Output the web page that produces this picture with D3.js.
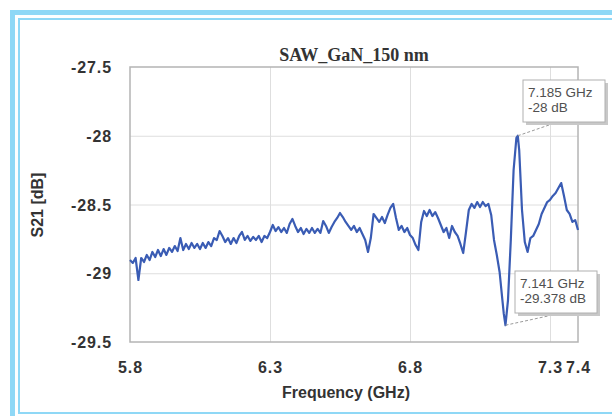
<!DOCTYPE html>
<html>
<head>
<meta charset="utf-8">
<script src="https://cdn.jsdelivr.net/npm/d3@7"></script>
<style>
  body { margin: 0; background: #fff; }
  svg { display: block; }
  .tick-label { font-family: Arial, "Liberation Sans", sans-serif; font-weight: bold; font-size: 16px; letter-spacing: 0.9px; fill: #333; }
  .grid line { stroke: #dedede; stroke-width: 1; }
  .grid path { display: none; }
  .note { font-family: Arial, "Liberation Sans", sans-serif; font-size: 13.5px; fill: #505050; }
</style>
</head>
<body>
<div id="chart"></div>
<script>
// chart values
var chartTitle = "SAW_GaN_150 nm";
var xTicks = [5.8, 6.3, 6.8, 7.3, 7.4];
var yTicks = [-27.5, -28, -28.5, -29, -29.5];

var freqGHz = [
  5.80, 5.81, 5.82, 5.83, 5.84, 5.85, 5.86, 5.87, 5.88, 5.89,
  5.90, 5.91, 5.92, 5.93, 5.94, 5.95, 5.96, 5.97, 5.98, 5.99,
  6.00, 6.01, 6.02, 6.03, 6.04, 6.05, 6.06, 6.07, 6.08, 6.09,
  6.10, 6.11, 6.12, 6.13, 6.14, 6.15, 6.16, 6.17, 6.18, 6.19,
  6.20, 6.21, 6.22, 6.23, 6.24, 6.25, 6.26, 6.27, 6.28, 6.29,
  6.30, 6.31, 6.32, 6.33, 6.34, 6.35, 6.36, 6.37, 6.38, 6.39,
  6.40, 6.41, 6.42, 6.43, 6.44, 6.45, 6.46, 6.47, 6.48, 6.49,
  6.50, 6.51, 6.52, 6.53, 6.54, 6.55, 6.56, 6.57, 6.58, 6.59,
  6.60, 6.61, 6.62, 6.63, 6.64, 6.65, 6.66, 6.67, 6.68, 6.69,
  6.70, 6.71, 6.72, 6.73, 6.74, 6.75, 6.76, 6.77, 6.78, 6.79,
  6.80, 6.81, 6.82, 6.83, 6.84, 6.85, 6.86, 6.87, 6.88, 6.89,
  6.90, 6.91, 6.92, 6.93, 6.94, 6.95, 6.96, 6.97, 6.98, 6.99,
  7.00, 7.01, 7.02, 7.03, 7.04, 7.05, 7.06, 7.07, 7.08, 7.09,
  7.10, 7.11, 7.12, 7.13, 7.135, 7.141, 7.15, 7.16, 7.17, 7.18,
  7.185, 7.19, 7.20, 7.21, 7.22, 7.23, 7.24, 7.25, 7.26, 7.27,
  7.28, 7.29, 7.30, 7.31, 7.32, 7.33, 7.34, 7.35, 7.36, 7.37,
  7.38, 7.39, 7.40
];

var s21dB = [
  -28.904, -28.925, -28.889, -29.049, -28.889, -28.918, -28.867, -28.904, -28.845, -28.882,
  -28.831, -28.875, -28.824, -28.867, -28.816, -28.845, -28.802, -28.838, -28.744, -28.831,
  -28.787, -28.824, -28.780, -28.816, -28.787, -28.824, -28.780, -28.816, -28.773, -28.802,
  -28.744, -28.758, -28.693, -28.729, -28.773, -28.744, -28.787, -28.744, -28.780, -28.729,
  -28.700, -28.758, -28.729, -28.765, -28.736, -28.758, -28.729, -28.773, -28.729, -28.744,
  -28.700, -28.649, -28.693, -28.664, -28.700, -28.671, -28.707, -28.642, -28.605, -28.656,
  -28.700, -28.671, -28.715, -28.678, -28.707, -28.671, -28.707, -28.678, -28.707, -28.620,
  -28.656, -28.707, -28.664, -28.627, -28.598, -28.562, -28.591, -28.627, -28.656, -28.685,
  -28.656, -28.700, -28.671, -28.715, -28.758, -28.845, -28.744, -28.569, -28.598, -28.627,
  -28.591, -28.635, -28.576, -28.525, -28.496, -28.598, -28.685, -28.656, -28.700, -28.671,
  -28.722, -28.744, -28.795, -28.831, -28.627, -28.547, -28.584, -28.540, -28.584, -28.555,
  -28.598, -28.649, -28.700, -28.671, -28.744, -28.656, -28.700, -28.729, -28.787, -28.853,
  -28.700, -28.540, -28.496, -28.525, -28.482, -28.518, -28.482, -28.511, -28.496, -28.576,
  -28.758, -28.867, -28.991, -29.195, -29.296, -29.378, -29.195, -28.758, -28.249, -28.016,
  -28.000, -28.104, -28.540, -28.773, -28.845, -28.744, -28.729, -28.685, -28.642, -28.569,
  -28.525, -28.482, -28.467, -28.438, -28.416, -28.380, -28.344, -28.438, -28.540, -28.569,
  -28.627, -28.613, -28.685
];

// marker readouts: frequency, value, label lines
var markerF = [7.185, 7.141];
var markerV = [-28, -29.378];
var markerText = [["7.185 GHz", "-28 dB"], ["7.141 GHz", "-29.378 dB"]];

var trace = freqGHz.map(function(f, i) { return {f: f, v: s21dB[i]}; });

var W = 612, H = 416;
var margin = {top: 67, right: 34, bottom: 74, left: 130},
    width = W - margin.left - margin.right,
    height = H - margin.top - margin.bottom;

var svg = d3.select("#chart").append("svg")
    .attr("width", W)
    .attr("height", H);

// light blue page frame
svg.append("rect")
    .attr("x", 12.5).attr("y", 12.5)
    .attr("width", 700).attr("height", 420)
    .attr("fill", "none")
    .attr("stroke", "#8fd8f6")
    .attr("stroke-width", 5);
svg.append("rect")
    .attr("x", 19).attr("y", 19)
    .attr("width", 700).attr("height", 394)
    .attr("fill", "none")
    .attr("stroke", "#8fd8f6")
    .attr("stroke-width", 2);

var x = d3.scaleLinear().domain([5.8, 7.4]).range([0, width]);
var y = d3.scaleLinear().domain([-29.5, -27.5]).range([height, 0]);

var g = svg.append("g")
    .attr("transform", "translate(" + margin.left + "," + margin.top + ")");

// grid
g.append("g")
    .attr("class", "grid")
    .call(d3.axisLeft(y).tickValues([-28, -28.5, -29]).tickSize(-width).tickFormat(""));
g.append("g")
    .attr("class", "grid")
    .attr("transform", "translate(0," + height + ")")
    .call(d3.axisBottom(x).tickValues([6.3, 6.8, 7.3]).tickSize(-height).tickFormat(""));

// plot frame
g.append("rect")
    .attr("width", width)
    .attr("height", height)
    .attr("fill", "none")
    .attr("stroke", "#b4b4b4")
    .attr("stroke-width", 1.5);

// the S21 trace
var line = d3.line()
    .x(function(d) { return x(d.f); })
    .y(function(d) { return y(d.v); });

g.append("path")
    .attr("d", line(trace))
    .attr("fill", "none")
    .attr("stroke", "#3a5cb4")
    .attr("stroke-width", 2.2)
    .attr("stroke-linejoin", "round");

// tick labels
var yAxis = g.append("g")
    .call(d3.axisLeft(y).tickValues(yTicks).tickSize(0).tickPadding(18)
      .tickFormat(function(d) { return String(d); }));
yAxis.select(".domain").remove();
yAxis.selectAll("text").attr("class", "tick-label").attr("dy", "0.35em");

var xAxis = g.append("g")
    .attr("transform", "translate(0," + height + ")")
    .call(d3.axisBottom(x).tickValues(xTicks).tickSize(0).tickPadding(20)
      .tickFormat(d3.format(".1f")));
xAxis.select(".domain").remove();
xAxis.selectAll("text").attr("class", "tick-label");

// titles
svg.append("text")
    .attr("x", 354).attr("y", 61)
    .attr("text-anchor", "middle")
    .style("font-family", "'Times New Roman', 'Liberation Serif', serif")
    .style("font-weight", "bold")
    .style("font-size", "18px")
    .style("fill", "#333")
    .text(chartTitle);

svg.append("text")
    .attr("x", 346).attr("y", 398)
    .attr("text-anchor", "middle")
    .style("font-family", "Arial, 'Liberation Sans', sans-serif")
    .style("font-weight", "bold")
    .style("font-size", "16px")
    .style("fill", "#333")
    .text("Frequency (GHz)");

svg.append("text")
    .attr("transform", "translate(43,205) rotate(-90)")
    .attr("text-anchor", "middle")
    .style("font-family", "Arial, 'Liberation Sans', sans-serif")
    .style("font-weight", "bold")
    .style("font-size", "16px")
    .style("fill", "#333")
    .text("S21 [dB]");

// marker readout boxes
var boxPos = [{x: 523, y: 80, lx: 552, ly: 124}, {x: 515, y: 271, lx: 548, ly: 316}];
markerF.forEach(function(f, i) {
  var b = boxPos[i];
  g.append("line")
      .attr("x1", x(f)).attr("y1", y(markerV[i]))
      .attr("x2", b.lx - margin.left).attr("y2", b.ly - margin.top)
      .attr("stroke", "#9a9a9a")
      .attr("stroke-width", 1)
      .attr("stroke-dasharray", "3,2");
  svg.append("rect")
      .attr("x", b.x + 3).attr("y", b.y + 3)
      .attr("width", 82).attr("height", 42)
      .attr("fill", "#c8c8c8");
  svg.append("rect")
      .attr("x", b.x).attr("y", b.y)
      .attr("width", 82).attr("height", 42)
      .attr("fill", "#fff")
      .attr("stroke", "#b0b0b0");
  markerText[i].forEach(function(t, j) {
    svg.append("text")
        .attr("class", "note")
        .attr("x", b.x + 5)
        .attr("y", b.y + 17 + j * 15)
        .text(t);
  });
});
</script>
</body>
</html>
